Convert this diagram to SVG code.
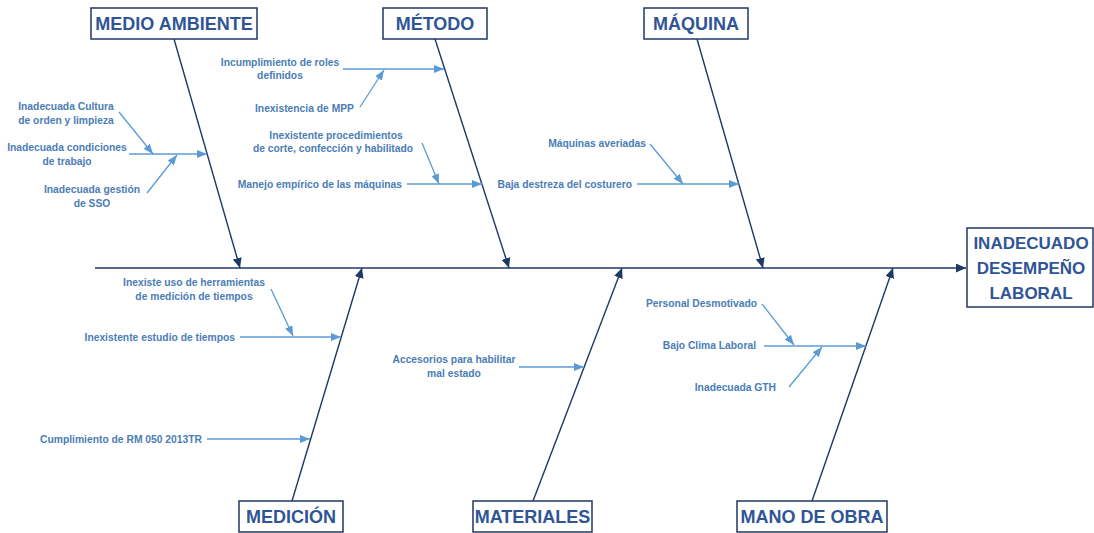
<svg xmlns="http://www.w3.org/2000/svg" width="1094" height="533" viewBox="0 0 1094 533">
  <defs>
    <marker id="headMain" markerUnits="userSpaceOnUse" markerWidth="11" markerHeight="9" refX="10" refY="4.5" orient="auto">
      <path d="M0,0 L10,4.5 L0,9 z" fill="#1F3864"/>
    </marker>
    <marker id="headSub" markerUnits="userSpaceOnUse" markerWidth="11" markerHeight="8" refX="10" refY="4" orient="auto">
      <path d="M0,0 L10,4 L0,8 z" fill="#5B9BD5"/>
    </marker>
  </defs>
  <style>
    .box { fill: #FFFFFF; stroke: #1F3864; stroke-width: 1.5; }
    .cat { font-family: "Liberation Sans", Arial, sans-serif; font-weight: bold; font-size: 18px; fill: #2F5597; text-anchor: middle; }
    .effect { font-size: 17px; }
    .cause { font-family: "Liberation Sans", Arial, sans-serif; font-weight: bold; font-size: 10.3px; fill: #4A7DB5; }
    .mid { text-anchor: middle; }
    .end { text-anchor: end; }
    .bone { stroke: #1F3864; stroke-width: 1.4; fill: none; marker-end: url(#headMain); }
    .rib { stroke: #5B9BD5; stroke-width: 1.3; fill: none; marker-end: url(#headSub); }
  </style>
  <rect width="1094" height="533" fill="#FFFFFF"/>

  <!-- connectors: spine, main bones and cause ribs -->
  <g id="connectors">
    <line class="bone" x1="95" y1="268" x2="966" y2="268"/>
    <line class="bone" x1="174" y1="39" x2="240" y2="268"/>
    <line class="bone" x1="435" y1="39" x2="509" y2="268"/>
    <line class="bone" x1="697" y1="39" x2="763" y2="268"/>
    <line class="bone" x1="292" y1="501" x2="362" y2="268"/>
    <line class="bone" x1="533" y1="501" x2="622" y2="268"/>
    <line class="bone" x1="812" y1="501" x2="893" y2="268"/>

    <!-- medio ambiente -->
    <line class="rib" x1="129" y1="154" x2="207" y2="154"/>
    <line class="rib" x1="119" y1="112" x2="153" y2="154"/>
    <line class="rib" x1="147" y1="193" x2="177" y2="155"/>
    <!-- método -->
    <line class="rib" x1="343" y1="69" x2="444" y2="69"/>
    <line class="rib" x1="360" y1="107" x2="384" y2="70"/>
    <line class="rib" x1="407" y1="184" x2="482" y2="184"/>
    <line class="rib" x1="422" y1="143" x2="439" y2="184"/>
    <!-- máquina -->
    <line class="rib" x1="637" y1="184" x2="739" y2="184"/>
    <line class="rib" x1="650" y1="144" x2="683" y2="184"/>
    <!-- medición -->
    <line class="rib" x1="271" y1="289" x2="293" y2="336"/>
    <line class="rib" x1="240" y1="337" x2="341" y2="337"/>
    <line class="rib" x1="207" y1="439" x2="310" y2="439"/>
    <!-- materiales -->
    <line class="rib" x1="519" y1="367" x2="584" y2="367"/>
    <!-- mano de obra -->
    <line class="rib" x1="762" y1="304" x2="794" y2="345"/>
    <line class="rib" x1="764" y1="346" x2="866" y2="346"/>
    <line class="rib" x1="789" y1="387" x2="822" y2="347"/>
  </g>

  <g id="efecto">
    <rect class="box" x="967" y="228" width="126" height="79"/>
    <text class="cat effect" x="1031" y="249">INADECUADO</text>
    <text class="cat effect" x="1031" y="274">DESEMPEÑO</text>
    <text class="cat effect" x="1031" y="299">LABORAL</text>
  </g>

  <g id="medio-ambiente">
    <rect class="box" x="91" y="8" width="166" height="31"/>
    <text class="cat" x="174" y="30">MEDIO AMBIENTE</text>
    <text class="cause mid" x="66" y="109.5">Inadecuada Cultura</text>
    <text class="cause mid" x="66" y="123.5">de orden y limpieza</text>
    <text class="cause mid" x="67" y="150.5">Inadecuada condiciones</text>
    <text class="cause mid" x="67" y="164.5">de trabajo</text>
    <text class="cause mid" x="92" y="192.5">Inadecuada gestión</text>
    <text class="cause mid" x="92" y="206.5">de SSO</text>
  </g>

  <g id="metodo">
    <rect class="box" x="383" y="8" width="104" height="31"/>
    <text class="cat" x="435" y="30">MÉTODO</text>
    <text class="cause mid" x="280" y="65.5">Incumplimiento de roles</text>
    <text class="cause mid" x="280" y="78.5">definidos</text>
    <text class="cause end" x="354" y="111.5">Inexistencia de MPP</text>
    <text class="cause mid" x="336" y="138.5">Inexistente procedimientos</text>
    <text class="cause mid" x="333" y="151.5">de corte, confección y habilitado</text>
    <text class="cause end" x="402" y="187.5">Manejo empírico de las máquinas</text>
  </g>

  <g id="maquina">
    <rect class="box" x="644" y="8" width="104" height="31"/>
    <text class="cat" x="696" y="30">MÁQUINA</text>
    <text class="cause end" x="646" y="146.5">Máquinas averiadas</text>
    <text class="cause end" x="632" y="187.5">Baja destreza del costurero</text>
  </g>

  <g id="medicion">
    <rect class="box" x="239" y="501" width="104" height="31"/>
    <text class="cat" x="291" y="523">MEDICIÓN</text>
    <text class="cause mid" x="194" y="285.5">Inexiste uso de herramientas</text>
    <text class="cause mid" x="194" y="299.5">de medición de tiempos</text>
    <text class="cause end" x="235" y="340.5">Inexistente estudio de tiempos</text>
    <text class="cause end" x="202" y="442.5">Cumplimiento de RM 050 2013TR</text>
  </g>

  <g id="materiales">
    <rect class="box" x="473" y="501" width="119" height="31"/>
    <text class="cat" x="532.5" y="523">MATERIALES</text>
    <text class="cause mid" x="454" y="362.5">Accesorios para habilitar</text>
    <text class="cause mid" x="454" y="376.5">mal estado</text>
  </g>

  <g id="mano-de-obra">
    <rect class="box" x="737" y="501" width="150" height="31"/>
    <text class="cat" x="812" y="523">MANO DE OBRA</text>
    <text class="cause end" x="757" y="306.5">Personal Desmotivado</text>
    <text class="cause end" x="756" y="348.5">Bajo Clima Laboral</text>
    <text class="cause end" x="776" y="390.5">Inadecuada GTH</text>
  </g>
</svg>
